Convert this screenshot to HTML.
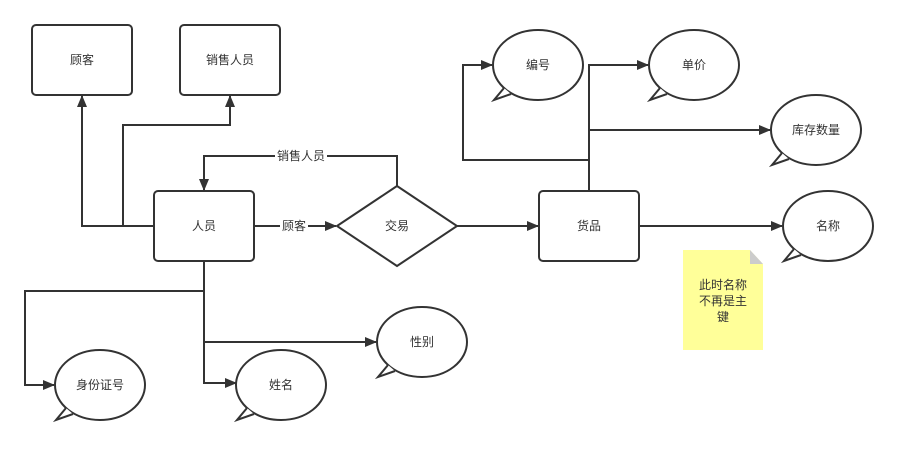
<!DOCTYPE html>
<html><head><meta charset="utf-8"><style>
html,body{margin:0;padding:0;background:#fff;}
svg text{font-family:"Liberation Sans","Noto Sans CJK SC",sans-serif;font-size:12px;fill:#333;}
</style></head><body>
<svg width="899" height="445" viewBox="0 0 899 445" xmlns="http://www.w3.org/2000/svg">
<defs>
<marker id="a" markerWidth="12" markerHeight="12" refX="11" refY="6" orient="auto" markerUnits="userSpaceOnUse">
<path d="M0,1 L12,6 L0,11 Z" fill="#333"/>
</marker>
<g id="cb">
<ellipse cx="45" cy="35" rx="45" ry="35" fill="#fff" stroke="#333" stroke-width="2"/>
<path d="M11,58 L0,70 L18,64 Z" fill="#fff"/>
<polyline points="11,58 1,70 18,64" fill="none" stroke="#333" stroke-width="2"/>
</g>
</defs>
<g fill="none" stroke="#333" stroke-width="2">
<polyline points="154,226 82,226 82,96" marker-end="url(#a)"/>
<polyline points="123,226 123,125 230,125 230,96" marker-end="url(#a)"/>
<polyline points="397,186 397,156 204,156 204,190" marker-end="url(#a)"/>
<line x1="254" y1="226" x2="336" y2="226" marker-end="url(#a)"/>
<line x1="457" y1="226" x2="538" y2="226" marker-end="url(#a)"/>
<polyline points="589,191 589,65 648,65" marker-end="url(#a)"/>
<polyline points="589,130 770,130" marker-end="url(#a)"/>
<polyline points="589,160 463,160 463,65 492,65" marker-end="url(#a)"/>
<line x1="639" y1="226" x2="782" y2="226" marker-end="url(#a)"/>
<polyline points="204,261 204,383 236,383" marker-end="url(#a)"/>
<polyline points="204,291 25,291 25,385 54,385" marker-end="url(#a)"/>
<polyline points="204,342 376,342" marker-end="url(#a)"/>
</g>
<g fill="#fff" stroke="#333" stroke-width="2">
<rect x="32" y="25" width="100" height="70" rx="4"/>
<rect x="180" y="25" width="100" height="70" rx="4"/>
<rect x="154" y="191" width="100" height="70" rx="4"/>
<rect x="539" y="191" width="100" height="70" rx="4"/>
<polygon points="337,226 397,186 457,226 397,266"/>
</g>
<rect x="275" y="149" width="52" height="14" fill="#fff"/>
<rect x="280" y="219" width="28" height="14" fill="#fff"/>
<use href="#cb" x="493" y="30"/>
<use href="#cb" x="649" y="30"/>
<use href="#cb" x="771" y="95"/>
<use href="#cb" x="783" y="191"/>
<use href="#cb" x="377" y="307"/>
<use href="#cb" x="236" y="350"/>
<use href="#cb" x="55" y="350"/>
<path d="M683,250 L750,250 L763,264 L763,350 L683,350 Z" fill="#ffff99"/>
<path d="M750,250 L763,264 L750,264 Z" fill="#ccc"/>
<g text-anchor="middle">
<text x="82" y="64">顾客</text>
<text x="230" y="64">销售人员</text>
<text x="204" y="230">人员</text>
<text x="397" y="230">交易</text>
<text x="589" y="230">货品</text>
<text x="301" y="160">销售人员</text>
<text x="294" y="230">顾客</text>
<text x="538" y="69">编号</text>
<text x="694" y="69">单价</text>
<text x="816" y="134">库存数量</text>
<text x="828" y="230">名称</text>
<text x="422" y="346">性别</text>
<text x="281" y="389">姓名</text>
<text x="100" y="389">身份证号</text>
<text x="723" y="289">此时名称</text>
<text x="723" y="305">不再是主</text>
<text x="723" y="321">键</text>
</g>
</svg>
</body></html>
